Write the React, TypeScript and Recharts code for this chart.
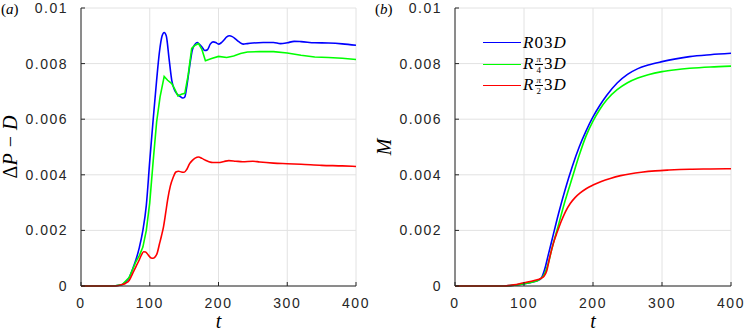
import React from 'react';
import { LineChart, Line, XAxis, YAxis, CartesianGrid, Legend } from 'recharts';

// panel (a): ΔP − D against t
const tBlueA = [0, 40, 50, 60, 65, 70, 75, 80, 85, 90, 95, 100, 105, 110, 114, 118, 121, 124, 128, 132, 136, 140, 144, 148, 151, 154, 158, 162, 166, 169, 172, 176, 180, 184, 188, 192, 196, 200, 204, 208, 212, 216, 220, 225, 230, 236, 242, 250, 265, 280, 290, 300, 310, 320, 340, 360, 380, 400];
const blueA = [0, 0, 0.00001, 0.00005, 0.00015, 0.0003, 0.0006, 0.00095, 0.0014, 0.002, 0.0029, 0.0045, 0.006, 0.0074, 0.0084, 0.009, 0.00912, 0.009, 0.0082, 0.0074, 0.00705, 0.0069, 0.00682, 0.00676, 0.0068, 0.0072, 0.0079, 0.0085, 0.0087, 0.00876, 0.0087, 0.0086, 0.00847, 0.0085, 0.0087, 0.00878, 0.00876, 0.0087, 0.00875, 0.00885, 0.00896, 0.009, 0.00897, 0.00888, 0.00878, 0.0087, 0.00872, 0.00874, 0.00876, 0.00876, 0.00872, 0.00875, 0.0088, 0.00879, 0.00875, 0.00874, 0.00871, 0.00866];

const tGreenA = [0, 40, 50, 60, 70, 80, 85, 90, 95, 100, 105, 110, 115, 121, 126, 132, 136, 141, 146, 151, 156, 161, 166, 171, 176, 181, 190, 200, 212, 222, 232, 242, 260, 280, 300, 320, 340, 360, 380, 400];
const greenA = [0, 0, 0.00001, 0.00005, 0.0003, 0.00088, 0.0011, 0.0014, 0.002, 0.003, 0.0045, 0.0059, 0.0068, 0.00754, 0.0074, 0.00728, 0.0071, 0.00684, 0.0069, 0.00693, 0.0076, 0.00855, 0.00866, 0.00872, 0.0085, 0.0081, 0.00818, 0.00826, 0.00822, 0.00827, 0.00836, 0.00842, 0.00843, 0.00843, 0.00838, 0.0083, 0.00824, 0.00822, 0.00819, 0.00815];

const tRedA = [0, 45, 55, 60, 65, 70, 76, 80, 84, 88, 91, 94, 98, 102, 105, 108, 111, 114, 117, 120, 123, 126, 130, 134, 138, 142, 146, 150, 154, 158, 162, 166, 171, 176, 181, 186, 192, 200, 208, 215, 225, 235, 250, 260, 280, 300, 320, 350, 380, 400];
const redA = [0, 0, 0.00002, 0.00005, 0.0001, 0.0002, 0.0005, 0.0007, 0.0009, 0.00112, 0.00123, 0.00122, 0.00111, 0.00101, 0.001, 0.00105, 0.0012, 0.0015, 0.0018, 0.00213, 0.0026, 0.0031, 0.0036, 0.0039, 0.0041, 0.00413, 0.0041, 0.00409, 0.0042, 0.0044, 0.00452, 0.0046, 0.00464, 0.00459, 0.00452, 0.00447, 0.00444, 0.00444, 0.00448, 0.00451, 0.00449, 0.00447, 0.00449, 0.00446, 0.00442, 0.0044, 0.00438, 0.00434, 0.00432, 0.0043];

// panel (b): M against t
const tBlueB = [0, 70, 90, 110, 120, 125, 130, 135, 140, 150, 160, 170, 180, 190, 200, 210, 220, 235, 250, 265, 280, 300, 320, 340, 370, 400];
const blueB = [0, 0, 0.00004, 0.00013, 0.0002, 0.00028, 0.0006, 0.0011, 0.0016, 0.0026, 0.0035, 0.0043, 0.005, 0.00558, 0.00608, 0.0065, 0.00686, 0.0073, 0.00761, 0.00782, 0.00795, 0.00807, 0.00817, 0.00825, 0.00832, 0.00837];

const tGreenB = [0, 70, 90, 110, 120, 125, 130, 135, 140, 150, 160, 170, 180, 190, 200, 210, 220, 235, 250, 265, 280, 300, 320, 340, 370, 400];
const greenB = [0, 0, 0.00004, 0.00013, 0.0002, 0.00028, 0.00045, 0.0008, 0.0013, 0.0022, 0.0031, 0.0039, 0.0047, 0.0054, 0.00593, 0.00636, 0.0067, 0.00706, 0.00731, 0.00748, 0.0076, 0.00771, 0.00778, 0.00783, 0.00788, 0.00791];

const tRedB = [0, 70, 85, 100, 115, 125, 129, 133, 137, 140, 144, 148, 154, 160, 167, 174, 181, 190, 200, 212, 225, 240, 255, 270, 290, 310, 340, 370, 400];
const redB = [0, 0, 0.00004, 0.00012, 0.0002, 0.00028, 0.00035, 0.00055, 0.001, 0.0013, 0.00165, 0.00193, 0.00233, 0.00267, 0.00297, 0.00318, 0.00334, 0.0035, 0.00363, 0.00376, 0.00387, 0.00397, 0.00404, 0.00409, 0.00414, 0.00417, 0.0042, 0.00421, 0.00422];

const seriesNames = ['R03D', 'Rπ/4 3D', 'Rπ/2 3D'];
const xTicks = [0, 100, 200, 300, 400];
const yTicks = [0, 0.002, 0.004, 0.006, 0.008, 0.01];

const COLORS = ['#0000ff', '#00ff00', '#ff0000'];
const AXIS = '#262626';
const SERIF = '"Liberation Serif", "Times New Roman", Times, "DejaVu Serif", serif';
const SANS = '"Liberation Sans", Arial, Helvetica, sans-serif';

const pts = (ts: number[], vs: number[]) => ts.map((t, i) => ({ t, v: vs[i] }));

const tickStyle = { fill: AXIS, fontSize: 14, fontFamily: SANS, letterSpacing: 1.5 };
const fmtY = (v: number) => String(Number(v.toFixed(3)));

const frac = (den: string) => (
  <span
    style={{
      display: 'inline-flex',
      flexDirection: 'column',
      alignItems: 'center',
      fontSize: 9,
      lineHeight: '8px',
      verticalAlign: 'middle',
      margin: '0 1px',
      position: 'relative',
      top: -1,
    }}
  >
    <span style={{ fontStyle: 'italic', borderBottom: '1px solid #000', padding: '0 1px 1px' }}>π</span>
    <span style={{ paddingTop: 1 }}>{den}</span>
  </span>
);

const renderName = (name: string) => {
  const den = name.includes('/') ? name.split('/')[1][0] : null;
  return (
    <span style={{ fontFamily: SERIF, fontSize: 17, letterSpacing: 1, color: '#000' }}>
      <i>R</i>
      {den ? frac(den) : '0'}3<i>D</i>
    </span>
  );
};

const renderLegend = (props: any) => {
  const payload = [...(props.payload || [])].sort(
    (p: any, q: any) => seriesNames.indexOf(p.value) - seriesNames.indexOf(q.value)
  );
  return (
    <div>
      {payload.map((entry: any, index: number) => (
        <div key={`legend-${index}`} style={{ display: 'flex', alignItems: 'center', height: 21.5 }}>
          <div style={{ width: 38, borderTop: `1.6px solid ${entry.color}`, marginRight: 2 }} />
          {renderName(entry.value)}
        </div>
      ))}
    </div>
  );
};

const yLabelContent = (tag: string, kind: 'a' | 'b') => (props: any) => {
  const vb = props.viewBox;
  const cy = vb.y + vb.height / 2;
  return (
    <g>
      <text x={1} y={14} fontFamily={SERIF} fontSize={15} fill="#000">
        (<tspan fontStyle="italic">{tag}</tspan>)
      </text>
      <text
        transform={`translate(17, ${cy}) rotate(-90)`}
        textAnchor="middle"
        fontFamily={SERIF}
        fontSize={20}
        fill="#000"
      >
        {kind === 'a' ? (
          <>
            <tspan>Δ</tspan>
            <tspan fontStyle="italic">P</tspan>
            <tspan dx={6}>−</tspan>
            <tspan dx={6} fontStyle="italic">D</tspan>
          </>
        ) : (
          <tspan fontStyle="italic">M</tspan>
        )}
      </text>
    </g>
  );
};

const xLabelContent = (props: any) => {
  const vb = props.viewBox;
  return (
    <text x={vb.x + vb.width / 2} y={328} textAnchor="middle" fontFamily={SERIF} fontSize={20} fontStyle="italic" fill="#000">
      t
    </text>
  );
};

interface PanelProps {
  tag: string;
  kind: 'a' | 'b';
  width: number;
  right: number;
  series: { name: string; data: { t: number; v: number }[]; curve: 'monotone' | 'linear' }[];
  legend?: boolean;
}

const Panel: React.FC<PanelProps> = ({ tag, kind, width, right, series, legend }) => (
  <LineChart width={width} height={332} margin={{ top: 8, right, bottom: 0, left: 0 }}>
    <CartesianGrid stroke="#e2e2e2" />
    <XAxis
      dataKey="t"
      type="number"
      domain={[0, 400]}
      ticks={xTicks}
      height={46}
      stroke={AXIS}
      tickSize={-4}
      tickMargin={16}
      tick={tickStyle}
      label={{ content: xLabelContent }}
    />
    <XAxis xAxisId="top" orientation="top" type="number" domain={[0, 400]} ticks={xTicks} height={0} stroke={AXIS} tickSize={-4} tick={false} />
    <YAxis
      type="number"
      domain={[0, 0.01]}
      ticks={yTicks}
      width={81}
      stroke={AXIS}
      tickSize={-4}
      tickMargin={17}
      tick={tickStyle}
      tickFormatter={fmtY}
      label={{ content: yLabelContent(tag, kind) }}
    />
    <YAxis yAxisId="right" orientation="right" type="number" domain={[0, 0.01]} ticks={yTicks} width={0} stroke={AXIS} tickSize={-4} tick={false} />
    {series.map((s, i) => (
      <Line
        key={s.name}
        name={s.name}
        data={s.data}
        dataKey="v"
        type={s.curve}
        stroke={COLORS[i]}
        strokeWidth={1.6}
        dot={false}
        activeDot={false}
        isAnimationActive={false}
      />
    ))}
    {legend && (
      <Legend
        layout="vertical"
        align="center"
        verticalAlign="middle"
        content={renderLegend}
        wrapperStyle={{ left: 109, top: 32, width: 'auto', height: 'auto' }}
      />
    )}
  </LineChart>
);

export default function App() {
  const seriesA = [
    { name: seriesNames[0], data: pts(tBlueA, blueA), curve: 'monotone' as const },
    { name: seriesNames[1], data: pts(tGreenA, greenA), curve: 'linear' as const },
    { name: seriesNames[2], data: pts(tRedA, redA), curve: 'monotone' as const },
  ];
  const seriesB = [
    { name: seriesNames[0], data: pts(tBlueB, blueB), curve: 'monotone' as const },
    { name: seriesNames[1], data: pts(tGreenB, greenB), curve: 'monotone' as const },
    { name: seriesNames[2], data: pts(tRedB, redB), curve: 'monotone' as const },
  ];
  return (
    <div style={{ position: 'absolute', left: 0, top: 0, width: 747, height: 332, background: '#fff', display: 'flex' }}>
      <Panel tag="a" kind="a" width={374} right={18} series={seriesA} />
      <Panel tag="b" kind="b" width={373} right={16} series={seriesB} legend />
    </div>
  );
}
